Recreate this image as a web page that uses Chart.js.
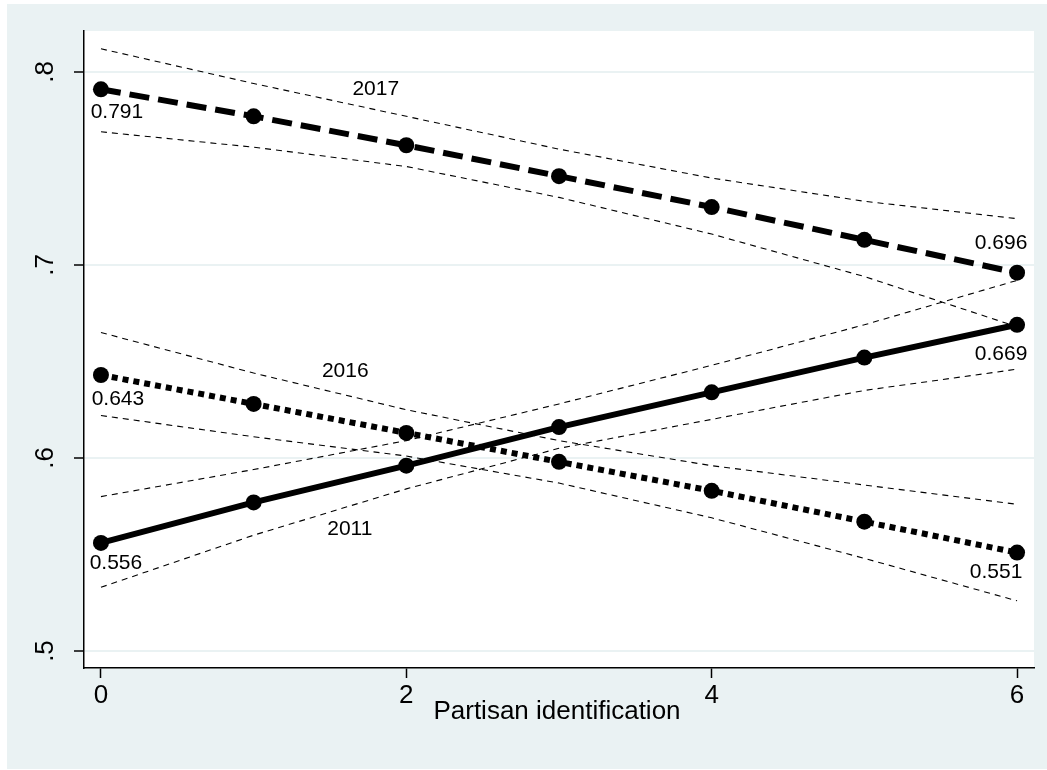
<!DOCTYPE html>
<html>
<head>
<meta charset="utf-8">
<script src="https://cdn.jsdelivr.net/npm/chart.js@4.4.0/dist/chart.umd.min.js"></script>
<style>
  html, body { margin: 0; padding: 0; background: #fff; }
</style>
</head>
<body>
<canvas id="chart" width="1047" height="770"></canvas>
<script>
// Valores (margenes predichos por identificacion partidaria)
const partisanId = [0, 1, 2, 3, 4, 5, 6];
const xTicks = [0, 2, 4, 6];
const yTicks = [0.5, 0.6, 0.7, 0.8];
const yTickLabels = ['.5', '.6', '.7', '.8'];

const pred2017 = [0.791, 0.777, 0.762, 0.746, 0.730, 0.713, 0.696];
const hi2017 = [0.812, 0.794, 0.777, 0.760, 0.745, 0.733, 0.724];
const lo2017 = [0.769, 0.761, 0.751, 0.735, 0.716, 0.694, 0.668];

const pred2016 = [0.643, 0.628, 0.613, 0.598, 0.583, 0.567, 0.551];
const hi2016 = [0.665, 0.644, 0.625, 0.609, 0.596, 0.586, 0.576];
const lo2016 = [0.622, 0.611, 0.601, 0.587, 0.569, 0.548, 0.526];

const pred2011 = [0.556, 0.577, 0.596, 0.616, 0.634, 0.652, 0.669];
const hi2011 = [0.580, 0.594, 0.609, 0.628, 0.648, 0.669, 0.692];
const lo2011 = [0.533, 0.560, 0.584, 0.605, 0.620, 0.635, 0.646];

// Etiquetas de año dentro del grafico
const yearLabels = ['2017', '2016', '2011'];
const yearLabelX = [1.80, 1.60, 1.63];
const yearLabelY = [0.791, 0.645, 0.563];

const FONT = '"Liberation Sans", Arial, Helvetica, sans-serif';

function pts(values) {
  return partisanId.map((x, i) => ({ x: x, y: values[i] }));
}

function mainLine(label, values, dash) {
  return {
    label: label,
    data: pts(values),
    borderColor: '#000',
    backgroundColor: '#000',
    borderWidth: 6,
    borderDash: dash,
    borderCapStyle: 'butt',
    pointRadius: 8,
    pointBackgroundColor: '#000',
    pointBorderWidth: 0,
    tension: 0,
  };
}

function bandLine(label, values) {
  return {
    label: label,
    data: pts(values),
    borderColor: '#000',
    borderWidth: 1.1,
    borderDash: [6, 5],
    pointRadius: 0,
    tension: 0,
  };
}

// Dibuja fondo estilo Stata y los textos
const stataLook = {
  id: 'stataLook',
  beforeDraw(chart) {
    const { ctx, chartArea: a } = chart;
    ctx.save();
    ctx.fillStyle = '#fff';
    ctx.fillRect(0, 0, chart.width, chart.height);
    ctx.fillStyle = '#eaf2f3';
    ctx.fillRect(7, 4, chart.width - 7, chart.height - 5);
    ctx.fillStyle = '#fff';
    ctx.fillRect(a.left, a.top, a.right - a.left, a.bottom - a.top);
    ctx.restore();
  },
  afterDatasetsDraw(chart) {
    const { ctx } = chart;
    const xs = chart.scales.x;
    const ys = chart.scales.y;
    ctx.save();
    ctx.fillStyle = '#000';
    ctx.textAlign = 'center';
    ctx.textBaseline = 'middle';

    // etiquetas de valor en primer y ultimo punto
    ctx.font = '21px ' + FONT;
    const valueLabels = [
      { ds: 0, idx: 0, dx: 16, dy: 23 },
      { ds: 0, idx: 6, dx: -16, dy: -29 },
      { ds: 1, idx: 0, dx: 17, dy: 24 },
      { ds: 1, idx: 6, dx: -21, dy: 20 },
      { ds: 2, idx: 0, dx: 15, dy: 20 },
      { ds: 2, idx: 6, dx: -16, dy: 29 },
    ];
    valueLabels.forEach(l => {
      const p = chart.getDatasetMeta(l.ds).data[l.idx];
      const v = chart.data.datasets[l.ds].data[l.idx].y;
      ctx.fillText(v.toFixed(3), p.x + l.dx, p.y + l.dy);
    });

    // etiquetas de año
    yearLabels.forEach((t, i) => {
      ctx.fillText(t, xs.getPixelForValue(yearLabelX[i]), ys.getPixelForValue(yearLabelY[i]));
    });

    // ticks eje x
    ctx.font = '26px ' + FONT;
    xTicks.forEach(v => {
      ctx.fillText(String(v), xs.getPixelForValue(v), 696);
    });

    // titulo eje x
    ctx.fillText('Partisan identification', (chart.chartArea.left + chart.chartArea.right) / 2 - 2, 712);

    // ticks eje y, rotados como en Stata
    yTicks.forEach((v, i) => {
      ctx.save();
      ctx.translate(46, ys.getPixelForValue(v));
      ctx.rotate(-Math.PI / 2);
      ctx.fillText(yTickLabels[i], 0, 0);
      ctx.restore();
    });
    ctx.restore();
  }
};

const ctx = document.getElementById('chart');
new Chart(ctx, {
  type: 'line',
  data: {
    datasets: [
      mainLine('2017', pred2017, [20, 9]),
      mainLine('2016', pred2016, [6, 5]),
      mainLine('2011', pred2011, []),
      bandLine('2017 hi', hi2017),
      bandLine('2017 lo', lo2017),
      bandLine('2016 hi', hi2016),
      bandLine('2016 lo', lo2016),
      bandLine('2011 hi', hi2011),
      bandLine('2011 lo', lo2011),
    ],
  },
  options: {
    responsive: false,
    animation: false,
    devicePixelRatio: 1,
    layout: { padding: { left: 0, top: 31, right: 13, bottom: 0 } },
    plugins: {
      legend: { display: false },
      tooltip: { enabled: false },
    },
    scales: {
      x: {
        type: 'linear',
        min: -0.111,
        max: 6.111,
        afterBuildTicks: s => { s.ticks = xTicks.map(v => ({ value: v })); },
        afterFit: s => { s.height = 102; },
        ticks: { display: false },
        grid: { drawOnChartArea: false, tickLength: 10, tickColor: '#000', tickWidth: 1.5 },
        border: { color: '#000', width: 1.5 },
      },
      y: {
        type: 'linear',
        min: 0.4912,
        max: 0.8212,
        afterBuildTicks: s => { s.ticks = yTicks.map(v => ({ value: v })); },
        afterFit: s => { s.width = 84; },
        ticks: { display: false },
        grid: { color: '#eaf2f3', lineWidth: 2, tickLength: 10, tickColor: '#000', tickWidth: 1.5 },
        border: { color: '#000', width: 1.5 },
      },
    },
  },
  plugins: [stataLook],
});
</script>
</body>
</html>
